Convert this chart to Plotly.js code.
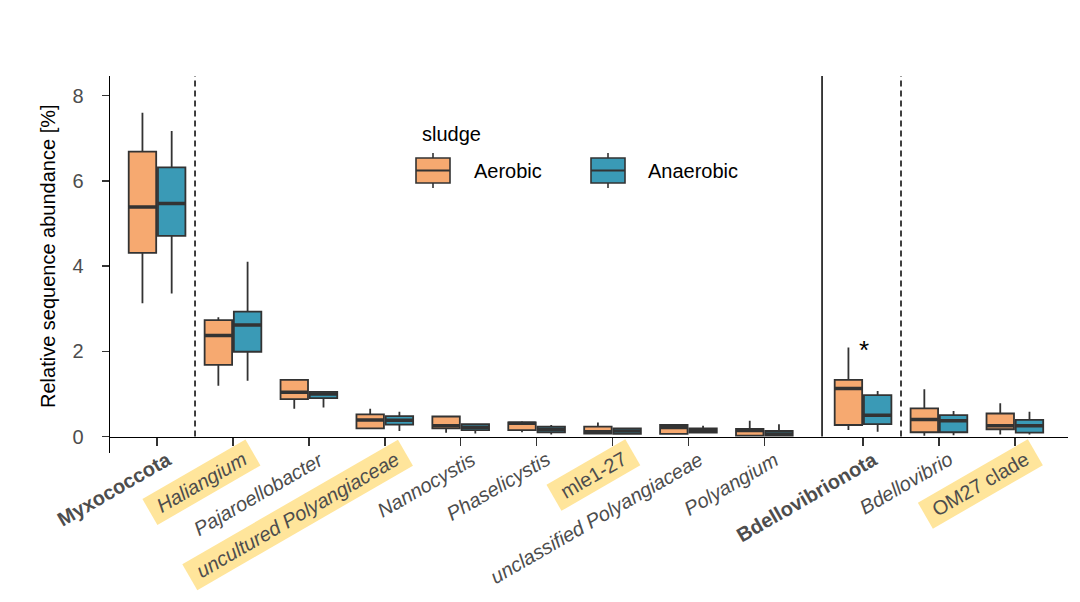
<!DOCTYPE html>
<html><head><meta charset="utf-8">
<script src="https://cdn.plot.ly/plotly-3.0.1.min.js"></script>
<style>html,body{margin:0;padding:0;background:#fff}#chart{width:1080px;height:602px}</style>
</head><body><div id="chart"></div>
<script>
// ---- data ----
const categories = ['Myxococcota','Haliangium','Pajaroellobacter','uncultured Polyangiaceae','Nannocystis','Phaselicystis','mle1-27','unclassified Polyangiaceae','Polyangium','Bdellovibrionota','Bdellovibrio','OM27 clade'];
const labelStyle = ['bold','italic','italic','italic','italic','italic','plain','italic','italic','bold','italic','plain'];
const highlighted = [false,true,false,true,false,false,true,false,false,false,false,true];
const phylumGroup = [0,0,0,0,0,0,0,0,0,1,1,1];
const seriesNames = ['Aerobic','Anaerobic'];

// Aerobic sludge
const aerLow  = [3.13,1.19,0.65,0.19,0.09,0.10,0.05,0.05,0.00,0.15,0.02,0.05];
const aerQ1   = [4.31,1.68,0.88,0.19,0.19,0.15,0.07,0.06,0.02,0.27,0.10,0.17];
const aerMed  = [5.39,2.37,1.04,0.39,0.25,0.31,0.11,0.21,0.14,1.13,0.40,0.25];
const aerQ3   = [6.69,2.73,1.33,0.52,0.47,0.33,0.23,0.27,0.18,1.33,0.66,0.54];
const aerHigh = [7.60,2.80,1.33,0.65,0.47,0.36,0.33,0.29,0.37,2.09,1.11,0.78];
// Anaerobic sludge
const anaLow  = [3.36,1.31,0.68,0.13,0.07,0.05,0.04,0.08,0.00,0.11,0.03,0.05];
const anaQ1   = [4.71,1.99,0.90,0.28,0.15,0.10,0.06,0.09,0.02,0.29,0.10,0.09];
const anaMed  = [5.47,2.62,1.00,0.38,0.22,0.17,0.13,0.14,0.06,0.50,0.37,0.25];
const anaQ3   = [6.32,2.93,1.05,0.48,0.29,0.23,0.19,0.19,0.13,0.97,0.50,0.39];
const anaHigh = [7.17,4.10,1.05,0.58,0.29,0.27,0.21,0.25,0.29,1.07,0.60,0.58];
const yTicks = [0,2,4,6,8];
const significant = [false,false,false,false,false,false,false,false,false,true,false,false];

// ---- styling / layout ----
const FONT = 'Liberation Sans, Arial, Helvetica, sans-serif';
const ORANGE = '#F6A970', TEAL = '#3A9AB6', EDGE = '#333333';
const GROUP_GAP = 0.3;
const pos = categories.map((c,i)=> i + phylumGroup[i]*GROUP_GAP);
const yMin = -0.387, yMax = 8.463;
const L = 110, R = 12, T = 76, B = 149, W = 1080, H = 602;
const pw = W - L - R, ph = H - T - B;
const px = x => (x - L) / pw;
const py = y => (H - B - y) / ph;

function boxTrace(low,q1,med,q3,high,color,og){
  return {type:'box', x:pos, lowerfence:low, q1:q1, median:med, q3:q3, upperfence:high,
    fillcolor:color, line:{color:EDGE,width:1.8}, offsetgroup:og, alignmentgroup:'a',
    boxpoints:false, showlegend:false, hoverinfo:'skip', whiskerwidth:0};
}
function medianTrace(med,og){
  return {type:'box', x:pos, lowerfence:med, q1:med, median:med, q3:med, upperfence:med,
    fillcolor:'rgba(0,0,0,0)', line:{color:EDGE,width:3.5}, offsetgroup:og, alignmentgroup:'a',
    boxpoints:false, showlegend:false, hoverinfo:'skip', whiskerwidth:0};
}
const data = [
  boxTrace(aerLow,aerQ1,aerMed,aerQ3,aerHigh,ORANGE,'A'),
  boxTrace(anaLow,anaQ1,anaMed,anaQ3,anaHigh,TEAL,'B'),
  medianTrace(aerMed,'A'),
  medianTrace(anaMed,'B')
];

// separators: dashed after each phylum label, solid between phyla
const firstOfGroup = [0,9];
const shapes = [];
firstOfGroup.forEach(i=>{
  shapes.push({type:'line', xref:'x', yref:'y', x0:pos[i]+0.5, x1:pos[i]+0.5, y0:0, y1:yMax,
    line:{color:'#000', width:1.5, dash:'6px,4px'}});
});
shapes.push({type:'line', xref:'x', yref:'y', x0:pos[8]+0.76, x1:pos[8]+0.76, y0:0, y1:yMax,
  line:{color:'#000', width:1.5}});

// custom legend keys (box glyphs)
const legendKeys = [{left:416, label:'Aerobic', color:ORANGE, textLeft:472},
                    {left:591, label:'Anaerobic', color:TEAL, textLeft:646}];
const annotations = [];
legendKeys.forEach(k=>{
  const x0 = k.left, x1 = k.left + 34, xc = (x0+x1)/2;
  shapes.push({type:'line', xref:'paper', yref:'paper', x0:px(xc), x1:px(xc), y0:py(153), y1:py(188), line:{color:EDGE,width:1.6}});
  shapes.push({type:'rect', xref:'paper', yref:'paper', x0:px(x0), x1:px(x1), y0:py(158), y1:py(183), fillcolor:k.color, line:{color:EDGE,width:1.6}});
  shapes.push({type:'line', xref:'paper', yref:'paper', x0:px(x0), x1:px(x1), y0:py(170.5), y1:py(170.5), line:{color:EDGE,width:2}});
  annotations.push({xref:'paper', yref:'paper', x:px(k.textLeft), y:py(171), xanchor:'left', yanchor:'middle',
    text:k.label, showarrow:false, font:{family:FONT,size:20,color:'#000'}});
});
annotations.push({xref:'paper', yref:'paper', x:px(420), y:py(134), xanchor:'left', yanchor:'middle',
  text:'sludge', showarrow:false, font:{family:FONT,size:20,color:'#000'}});

// y axis title
annotations.push({xref:'paper', yref:'paper', x:px(48), y:py(256), xanchor:'center', yanchor:'middle', textangle:-90,
  text:'Relative sequence abundance [%]', showarrow:false, font:{family:FONT,size:20,color:'#000'}});

// x tick labels (rotated, some highlighted)
const NB = '\u00a0';
categories.forEach((c,i)=>{
  let t = c;
  if (labelStyle[i]==='italic') t = '<i>'+c+'</i>';
  if (labelStyle[i]==='bold') t = '<b>'+c+'</b>';
  annotations.push({xref:'x', yref:'y', x:pos[i], y:0, xanchor:'right', yanchor:'top', textangle:-30,
    xshift:28, yshift:-3, text:NB+t+NB, showarrow:false, borderpad:4, borderwidth:0,
    bgcolor: highlighted[i] ? '#FFE59B' : 'rgba(0,0,0,0)',
    font:{family:FONT,size:20,color:'#4d4d4d'}});
});

// significance marks
categories.forEach((c,i)=>{
  if (!significant[i]) return;
  annotations.push({xref:'x', yref:'y', x:pos[i], y:Math.max(aerHigh[i],anaHigh[i]), xanchor:'center', yanchor:'middle',
    xshift:1, yshift:-3, text:'*', showarrow:false, font:{family:FONT,size:26,color:'#000'}});
});

const layout = {
  width:W, height:H, margin:{l:L,r:R,t:T,b:B,pad:0},
  paper_bgcolor:'#fff', plot_bgcolor:'#fff',
  font:{family:FONT,size:20,color:'#000'},
  boxmode:'group', boxgap:0.23, boxgroupgap:0.06,
  showlegend:false,
  xaxis:{range:[-0.62,12.0], anchor:'free', position:(0-yMin)/(yMax-yMin),
    showline:true, linecolor:'#000', linewidth:1.5, ticks:'outside', ticklen:8, tickwidth:1.5, tickcolor:'#333',
    tickmode:'array', tickvals:pos, showticklabels:false, showgrid:false, zeroline:false, fixedrange:true},
  yaxis:{range:[yMin,yMax], showline:true, linecolor:'#000', linewidth:1.5, ticks:'outside', ticklen:7, tickwidth:1.5, tickcolor:'#333',
    tickmode:'array', tickvals:yTicks, tickfont:{family:FONT,size:20,color:'#4d4d4d'}, ticklabelstandoff:14,
    showgrid:false, zeroline:false, fixedrange:true},
  shapes:shapes, annotations:annotations
};
Plotly.newPlot('chart', data, layout, {displayModeBar:false, staticPlot:true});
</script></body></html>
